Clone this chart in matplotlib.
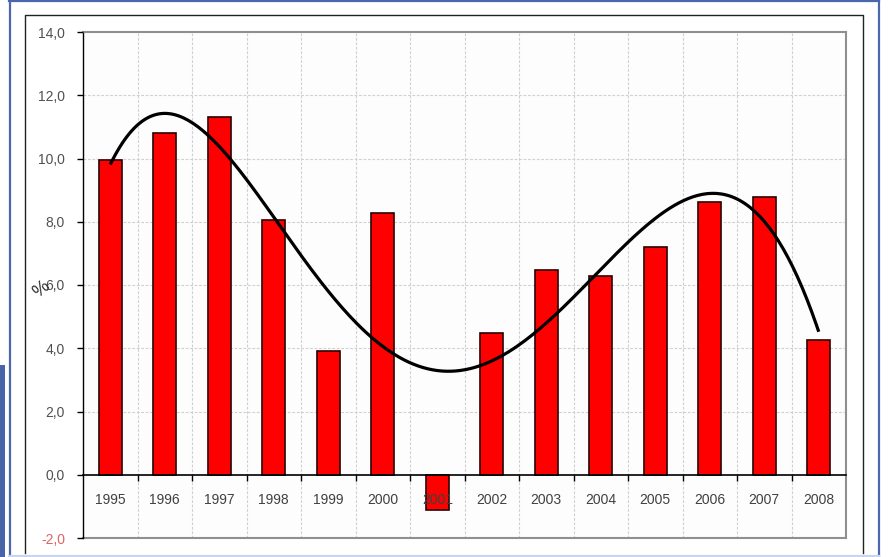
import numpy as np
import matplotlib
matplotlib.use("Agg")
from matplotlib import pyplot as plt
from matplotlib.ticker import FuncFormatter, FixedLocator
from matplotlib.lines import Line2D
from matplotlib.patches import Rectangle

years = ["1995", "1996", "1997", "1998", "1999", "2000", "2001",
         "2002", "2003", "2004", "2005", "2006", "2007", "2008"]
growth = [9.95, 10.8, 11.3, 8.05, 3.92, 8.28, -1.1,
          4.49, 6.48, 6.29, 7.2, 8.63, 8.78, 4.27]
y_ticks = [-2, 0, 2, 4, 6, 8, 10, 12, 14]

plt.rcParams['font.family'] = ['Liberation Sans', 'DejaVu Sans']

W, H = 888, 557
fig = plt.figure(figsize=(W / 100, H / 100), dpi=100)
fig.patch.set_facecolor("white")


def fx(px):
    return px / W


def fy(py):
    return 1 - py / H


# screenshot frame bits
blue = "#4a66ad"
fig.add_artist(Line2D([fx(9), fx(879)], [fy(0.8), fy(0.8)], color=blue, lw=1.6))
fig.add_artist(Line2D([fx(9.5), fx(9.5)], [fy(0), fy(557)], color=blue, lw=1.6))
fig.add_artist(Line2D([fx(878.5), fx(878.5)], [fy(0), fy(557)], color=blue, lw=1.6))
fig.add_artist(Line2D([fx(9), fx(879)], [fy(555.5), fy(555.5)], color="#c9d5ee", lw=1.6))
fig.add_artist(Rectangle((0, fy(557)), fx(5), fy(365) - fy(557), color="#4a64a8", lw=0))

# chart area frame
fig.add_artist(Line2D([fx(25), fx(25), fx(863), fx(863)],
                      [fy(553), fy(15), fy(15), fy(553)], color="#222222", lw=1.0))

left, right, top, bottom = 83, 846, 32, 538
ax = fig.add_axes([fx(left), fy(bottom), fx(right - left), fy(top) - fy(bottom)])
ax.set_facecolor("#fdfdfd")
ax.set_axisbelow(False)

x = np.arange(len(years))
ax.bar(x, growth, width=0.42, color="#ff0000", edgecolor="#2a0000", linewidth=1.2, zorder=2)

# polynomial trend line
coef = np.polyfit(x + 1, growth, 5)
xs = np.linspace(0, len(years) - 1, 300)
ax.plot(xs, np.polyval(coef, xs + 1), color="black", lw=2.3, zorder=4,
        solid_capstyle="butt")

ax.set_xlim(-0.5, len(years) - 0.5)
ax.set_ylim(-2, 14)

ax.yaxis.set_major_locator(FixedLocator(y_ticks))
ax.yaxis.set_major_formatter(FuncFormatter(lambda v, p: f"{v:.1f}".replace(".", ",")))
ax.tick_params(axis="y", direction="out", length=4, width=1, color="black",
               labelsize=10, labelcolor="#505050", pad=9)
for lab in ax.get_yticklabels():
    if lab.get_text().startswith("-"):
        lab.set_color("#e06262")

ax.set_xticks(x)
ax.set_xticklabels(years)
ax.set_xticks(x[:-1] + 0.5, minor=True)
ax.tick_params(axis="x", which="major", length=0, labelsize=10, labelcolor="#404040", pad=13)
ax.tick_params(axis="x", which="minor", direction="out", length=4, width=1, color="black")

# grid
for v in y_ticks[2:-1]:
    ax.axhline(v, color="#d0d0d0", lw=0.8, ls=(0, (2.5, 1.5)), zorder=1)
for b in x[:-1] + 0.5:
    ax.axvline(b, color="#d0d0d0", lw=0.8, ls=(0, (2.5, 1.5)), zorder=1)

for s in ["top", "right"]:
    ax.spines[s].set_color("#8f8f8f")
    ax.spines[s].set_linewidth(1.5)
ax.spines["left"].set_color("black")
ax.spines["left"].set_linewidth(1.0)
ax.spines["bottom"].set_position(("data", 0))
ax.spines["bottom"].set_color("black")
ax.spines["bottom"].set_linewidth(1.2)
ax.spines["bottom"].set_zorder(5)
ax.axhline(-2, color="#8f8f8f", lw=1.5, clip_on=False, zorder=2)

fig.text(fx(42), fy(289), "%", rotation=40, fontsize=13, color="#303030",
         ha="center", va="center")

fig.savefig("out.png", dpi=100)
